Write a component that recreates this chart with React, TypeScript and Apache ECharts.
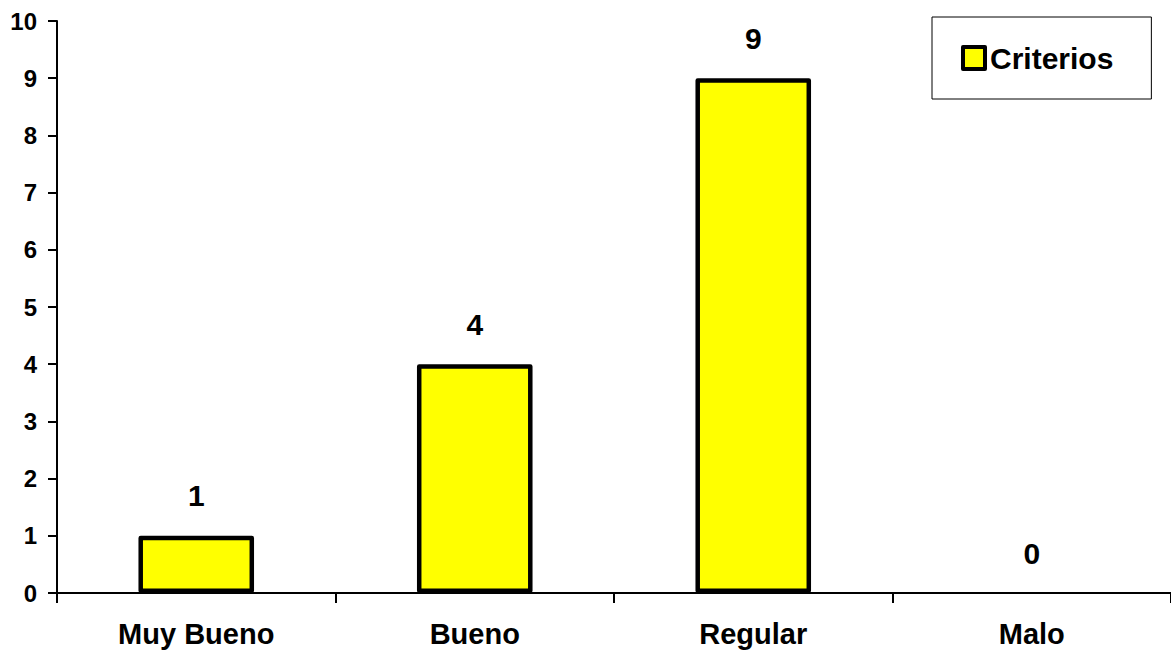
import React, { useEffect, useRef } from "react";
import * as echarts from "echarts";

const categories = ["Muy Bueno", "Bueno", "Regular", "Malo"];
const seriesName = "Criterios";
const values = [1, 4, 9, 0];
const yMin = 0;
const yMax = 10;
const yStep = 1;

const FONT = "'Liberation Sans', Arial, sans-serif";

export default function App() {
  const ref = useRef<HTMLDivElement>(null);
  useEffect(() => {
    if (!ref.current) return;
    const chart = echarts.init(ref.current, undefined, { renderer: "svg" });
    const barData = values.map((v) =>
      v === 0 ? { value: v, itemStyle: { borderWidth: 0, opacity: 0 } } : { value: v }
    );
    chart.setOption({
      animation: false,
      backgroundColor: "#ffffff",
      grid: { left: 57, right: -2, top: 21, bottom: 61, containLabel: false },
      legend: {
        left: 932,
        top: 17,
        orient: "vertical",
        padding: [26, 38, 26, 29],
        borderColor: "#000",
        borderWidth: 1,
        backgroundColor: "#fff",
        icon: "rect",
        itemWidth: 22,
        itemHeight: 22,
        itemStyle: { color: "#FFFF00", borderColor: "#000", borderWidth: 4, borderJoin: "round" },
        textStyle: { fontFamily: FONT, fontWeight: "bold", fontSize: 30, lineHeight: 30, color: "#000" },
        data: [seriesName],
      },
      xAxis: {
        type: "category",
        data: categories,
        boundaryGap: true,
        axisLine: { show: true, lineStyle: { color: "#000", width: 2 } },
        axisTick: { show: true, length: 10, inside: false, lineStyle: { color: "#000", width: 2 } },
        axisLabel: {
          margin: 26,
          color: "#000",
          fontFamily: FONT,
          fontWeight: "bold",
          fontSize: 29,
          interval: 0,
        },
        splitLine: { show: false },
      },
      yAxis: {
        type: "value",
        min: yMin,
        max: yMax,
        interval: yStep,
        axisLine: { show: true, lineStyle: { color: "#000", width: 2 } },
        axisTick: { show: true, length: 9, inside: false, lineStyle: { color: "#000", width: 2 } },
        axisLabel: {
          margin: 20,
          color: "#000",
          fontFamily: FONT,
          fontWeight: "bold",
          fontSize: 24,
        },
        splitLine: { show: false },
      },
      series: [
        {
          name: seriesName,
          type: "bar",
          data: barData,
          barWidth: "41.5%",
          itemStyle: { color: "#FFFF00", borderColor: "#000", borderWidth: 4.5, borderJoin: "round" },
          label: {
            show: true,
            position: "top",
            distance: 25,
            color: "#000",
            opacity: 1,
            fontFamily: FONT,
            fontWeight: "bold",
            fontSize: 30,
          },
        },
      ],
    });
    return () => chart.dispose();
  }, []);
  return (
    <div
      ref={ref}
      style={{ position: "absolute", left: 0, top: 0, width: 1171, height: 654 }}
    />
  );
}
